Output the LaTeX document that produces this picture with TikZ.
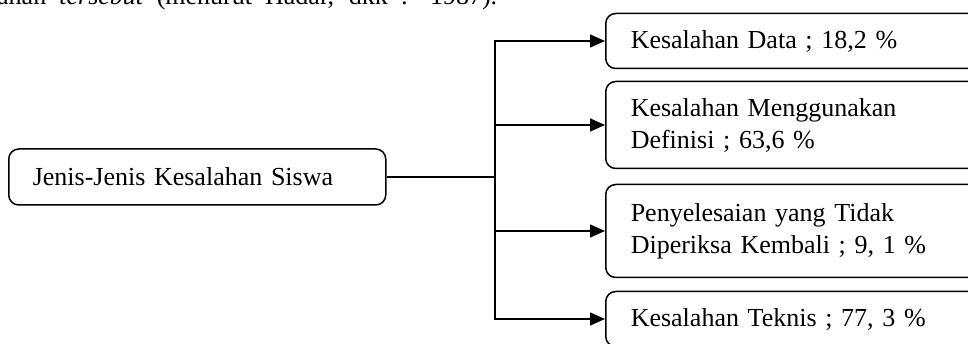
\documentclass[tikz,border=0pt]{standalone}
\usepackage{fontspec}
\setmainfont{Liberation Serif}
\usetikzlibrary{arrows.meta}
\begin{document}
\begin{tikzpicture}[x=1pt,y=-1pt,
  every node/.style={font=\fontsize{26}{32}\selectfont},
  boxstyle/.style={draw,line width=1.5pt,rounded corners=10pt,align=left,inner ysep=0pt},
  rightbox/.style={boxstyle,anchor=west,text width=350pt,inner xsep=25pt},
  link/.style={line width=1.5pt},
  arr/.style={link,-{Triangle[length=15pt,width=13pt]}}]
\useasboundingbox (0,0) rectangle (968,344);
\clip (0,0) rectangle (968,344);
\node[anchor=base west,inner sep=0pt] (top) at (-3,4.5) {\makebox[500pt][s]{ahan \textit{tersebut} (menurut Hadar, dkk : 1987).}};
\node[boxstyle,anchor=west,text width=329pt,inner xsep=24pt,minimum height=56pt] (src) at (8,177) {Jenis-Jenis Kesalahan Siswa};
\node[rightbox,minimum height=55pt] (b1) at (605,41) {Kesalahan Data ; 18,2 \%};
\node[rightbox,minimum height=87pt] (b2) at (605,125) {Kesalahan Menggunakan\\Definisi ; 63,6 \%};
\node[rightbox,minimum height=93pt] (b3) at (605,231) {Penyelesaian yang Tidak\\Diperiksa Kembali ; 9, 1 \%};
\node[rightbox,minimum height=55pt] (b4) at (605,319) {Kesalahan Teknis ; 77, 3 \%};
\coordinate (j) at (495,177);
\draw[link] (src.east) -- (j);
\draw[arr] (j) |- (b1.west);
\draw[arr] (j) |- (b2.west);
\draw[arr] (j) |- (b3.west);
\draw[arr] (j) |- (b4.west);
\end{tikzpicture}
\end{document}
